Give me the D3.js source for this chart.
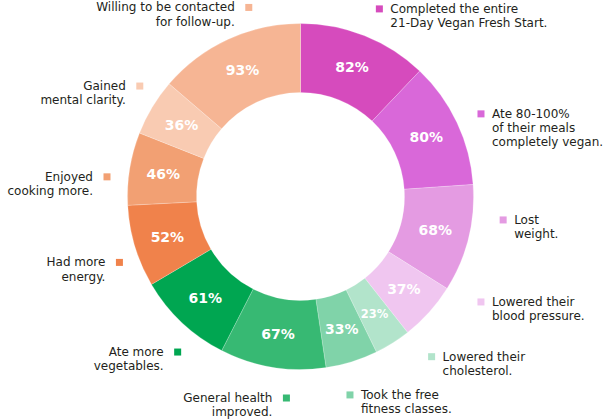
<!DOCTYPE html>
<html>
<head>
<meta charset="utf-8">
<script src="https://cdn.jsdelivr.net/npm/d3@7"></script>
<style>
  html, body { margin: 0; padding: 0; background: #fff; }
  svg { display: block; }
</style>
</head>
<body>
<svg id="chart" width="611" height="419"></svg>
<script>
// ---- data ----
const categories = [
  ["Completed the entire", "21-Day Vegan Fresh Start."],
  ["Ate 80-100%", "of their meals", "completely vegan."],
  ["Lost", "weight."],
  ["Lowered their", "blood pressure."],
  ["Lowered their", "cholesterol."],
  ["Took the free", "fitness classes."],
  ["General health", "improved."],
  ["Ate more", "vegetables."],
  ["Had more", "energy."],
  ["Enjoyed", "cooking more."],
  ["Gained", "mental clarity."],
  ["Willing to be contacted", "for follow-up."]
];
const values = [82, 80, 68, 37, 23, 33, 67, 61, 52, 46, 36, 93];
const valueLabels = ["82%", "80%", "68%", "37%", "23%", "33%", "67%", "61%", "52%", "46%", "36%", "93%"];
const colors = ["#d64bbd", "#d968d9", "#e49be2", "#f0c6f0", "#b2e4cb", "#80d3a9",
                "#37b973", "#00a651", "#f0824b", "#f2a073", "#f9cbb2", "#f6b594"];

// ---- layout (legend label placement, polar around the donut centre) ----
const labelAngleDeg = [22.8, 65.4, 96.6, 120.3, 140.7, 166, 184, 218.3, 250, 275.8, 304.5, 344.7];
const labelRadius   = [203.5, 198.5, 204, 209, 207, 204.5, 202, 198.2, 192.7, 194.5, 195, 196];

const svg = d3.select("#chart");
const cx = 300.5, cy = 196.5;
const inner = 104, outer = 173;

const data = values.map((v, i) => ({ value: v, label: categories[i], text: valueLabels[i], color: colors[i], i }));

const pie = d3.pie().sort(null).value(d => d.value).startAngle(0).endAngle(2 * Math.PI);
const arc = d3.arc().innerRadius(inner).outerRadius(outer);
const labelArc = d3.arc().innerRadius(139).outerRadius(139);

const g = svg.append("g").attr("transform", `translate(${cx},${cy})`);
const arcs = pie(data);

g.selectAll("path.slice").data(arcs).enter().append("path")
  .attr("class", "slice")
  .attr("d", arc)
  .attr("fill", d => d.data.color)
  .attr("stroke", "#ffffff")
  .attr("stroke-opacity", 0.35)
  .attr("stroke-width", 0.6);

g.selectAll("text.pct").data(arcs).enter().append("text")
  .attr("class", "pct")
  .attr("transform", d => `translate(${labelArc.centroid(d)})`)
  .attr("text-anchor", "middle")
  .attr("dy", "0.36em")
  .attr("fill", "#ffffff")
  .attr("font-family", "'DejaVu Sans', sans-serif")
  .attr("font-weight", "bold")
  .attr("font-size", d => d.data.value < 30 ? 11.5 : 14)
  .text(d => d.data.text);

// legend labels
const lab = svg.append("g");
data.forEach((d, i) => {
  const a = labelAngleDeg[i] * Math.PI / 180;
  const mx = cx + labelRadius[i] * Math.sin(a);
  const my = cy - labelRadius[i] * Math.cos(a);
  const right = labelAngleDeg[i] < 180;
  lab.append("rect")
    .attr("x", mx - 3.5).attr("y", my - 3.5)
    .attr("width", 7).attr("height", 7)
    .attr("fill", d.color);
  const tx = right ? mx + 11 : mx - 14;
  d.label.forEach((line, k) => {
    lab.append("text")
      .attr("x", tx)
      .attr("y", my + 4 + k * 14.2)
      .attr("text-anchor", right ? "start" : "end")
      .attr("fill", "#231f20")
      .attr("font-family", "'DejaVu Sans', sans-serif")
      .attr("font-size", 12)
      .text(line);
  });
});
</script>
</body>
</html>
